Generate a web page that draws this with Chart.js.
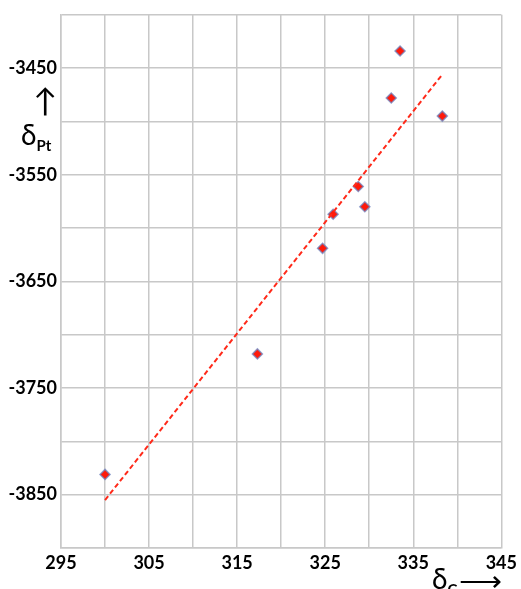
<!DOCTYPE html>
<html>
<head>
<meta charset="utf-8">
<script src="https://cdn.jsdelivr.net/npm/chart.js@4.4.0/dist/chart.umd.min.js"></script>
<style>
  html, body { margin: 0; padding: 0; background: #fff; }
  .wrap { position: relative; width: 521px; height: 589px; overflow: hidden; }
  .lbl { position: absolute; font-family: Lato, "Noto Sans", sans-serif; color: #000; white-space: nowrap; line-height: 1; }
  .lbl sub { font-size: 15px; font-weight: bold; vertical-align: -6px; }
</style>
</head>
<body>
<div class="wrap">
  <canvas id="myChart" width="521" height="589"></canvas>
  <div class="lbl" style="left:33px;top:84px;font-size:32px;">&#8593;</div>
  <div class="lbl" style="left:21px;top:120px;font-size:28px;">&delta;<sub>Pt</sub></div>
  <div class="lbl" style="left:432px;top:564px;font-size:28px;">&delta;<sub>C</sub></div>
  <div class="lbl" style="left:459px;top:564px;font-size:30px;">&#10230;</div>
</div>
<script>
// shift values
const dC = [300.0, 317.3, 324.7, 325.9, 328.75, 329.5, 332.5, 333.5, 338.3];
const dPt = [-3831, -3718, -3619, -3587, -3561, -3580, -3478, -3434, -3495];

// fitted trend line end points
const fitX = [300.0, 338.2];
const fitY = [-3855, -3457];

const xMin = 295, xMax = 345, xStep = 5, xLabelStep = 10;
const yMin = -3900, yMax = -3400, yStep = 50, yLabelStart = -3450, yLabelStep = 100;

const points = dC.map((x, i) => ({ x: x, y: dPt[i] }));
const fitLine = fitX.map((x, i) => ({ x: x, y: fitY[i] }));

const tickFont = { family: 'Lato, "Noto Sans", sans-serif', size: 18, weight: 'bold' };
const gridColor = '#c8c8c8';

const ctx = document.getElementById('myChart').getContext('2d');
new Chart(ctx, {
  type: 'scatter',
  data: {
    datasets: [
      {
        label: 'fit',
        type: 'line',
        data: fitLine,
        borderColor: '#ff2a1a',
        borderWidth: 2,
        borderDash: [5, 3],
        pointRadius: 0,
        fill: false,
      },
      {
        label: 'data',
        data: points,
        pointStyle: 'rectRot',
        pointRadius: 5,
        backgroundColor: '#ff1a0a',
        borderColor: 'rgba(110, 130, 190, 0.75)',
        borderWidth: 1.5,
      },
    ],
  },
  options: {
    responsive: false,
    animation: false,
    layout: { padding: { top: 13, right: 16, left: 0, bottom: 0 } },
    plugins: { legend: { display: false }, tooltip: { enabled: false } },
    scales: {
      x: {
        type: 'linear',
        min: xMin,
        max: xMax,
        afterFit: (scale) => { scale.height = 41; },
        grid: { color: gridColor, lineWidth: 1.5, drawTicks: false },
        border: { color: gridColor, width: 1.5 },
        ticks: {
          stepSize: xStep,
          padding: 4,
          color: '#000',
          font: tickFont,
          maxRotation: 0,
          autoSkip: false,
          callback: (v) => ((v - xMin) % xLabelStep === 0 ? v : ''),
        },
      },
      y: {
        type: 'linear',
        min: yMin,
        max: yMax,
        afterFit: (scale) => { scale.width = 61; },
        grid: { color: gridColor, lineWidth: 1.5, drawTicks: false },
        border: { color: gridColor, width: 1.5 },
        ticks: {
          stepSize: yStep,
          padding: 4,
          color: '#000',
          font: tickFont,
          autoSkip: false,
          callback: (v) => ((v - yLabelStart) % yLabelStep === 0 ? v : ''),
        },
      },
    },
  },
});
</script>
</body>
</html>
